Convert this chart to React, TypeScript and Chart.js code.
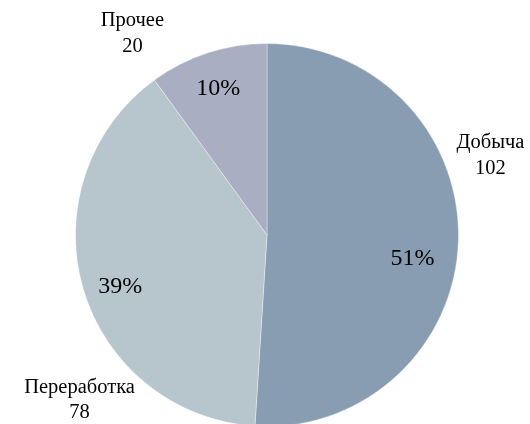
import React, { useEffect, useRef } from "react";
import { Chart, registerables } from "chart.js";

Chart.register(...registerables);

const categories = ["Добыча", "Переработка", "Прочее"];
const values = [102, 78, 20];
const percentLabels = ["51%", "39%", "10%"];
const colors = ["#889CB2", "#B7C5CD", "#A9AEC3"];

// label anchors relative to pie centre, in units of the radius
const outerAnchors = [
  { x: 1.167, y: -0.453 },
  { x: -0.979, y: 0.823 },
  { x: -0.703, y: -1.089 },
];
const innerAnchors = [
  { x: 0.76, y: 0.156 },
  { x: -0.766, y: 0.302 },
  { x: -0.255, y: -0.729 },
];

const labelPlugin = {
  id: "pieLabels",
  afterDatasetsDraw(chart: any) {
    const meta = chart.getDatasetMeta(0);
    const ctx = chart.ctx;
    ctx.save();
    ctx.fillStyle = "#000";
    ctx.textAlign = "center";
    ctx.textBaseline = "alphabetic";
    meta.data.forEach((arc: any, i: number) => {
      const cx = arc.x;
      const cy = arc.y;
      const r = arc.outerRadius;
      ctx.font = "24px 'Liberation Serif', 'Times New Roman', serif";
      ctx.fillText(percentLabels[i], cx + innerAnchors[i].x * r, cy + innerAnchors[i].y * r);
      ctx.font = "20.5px 'Liberation Serif', 'Times New Roman', serif";
      const ox = cx + outerAnchors[i].x * r;
      const oy = cy + outerAnchors[i].y * r;
      ctx.fillText(categories[i], ox, oy);
      ctx.fillText(String(values[i]), ox, oy + 25.5);
    });
    ctx.restore();
  },
};

export default function App() {
  const ref = useRef<HTMLCanvasElement | null>(null);
  useEffect(() => {
    if (!ref.current) return;
    const chart = new Chart(ref.current, {
      type: "pie",
      data: {
        labels: categories,
        datasets: [
          {
            data: values,
            backgroundColor: colors,
            borderColor: "rgba(255,255,255,0.35)",
            borderWidth: 1,
          },
        ],
      },
      options: {
        responsive: false,
        animation: false,
        layout: { padding: { top: 43, bottom: 13, left: 75, right: 71 } },
        plugins: {
          legend: { display: false },
          tooltip: { enabled: false },
        },
      },
      plugins: [labelPlugin],
    });
    return () => chart.destroy();
  }, []);
  return (
    <div
      style={{
        position: "fixed",
        top: 0,
        left: 0,
        width: 530,
        height: 424,
        overflow: "hidden",
        background: "#fff",
      }}
    >
      <canvas ref={ref} width={530} height={440} style={{ display: "block" }} />
    </div>
  );
}
